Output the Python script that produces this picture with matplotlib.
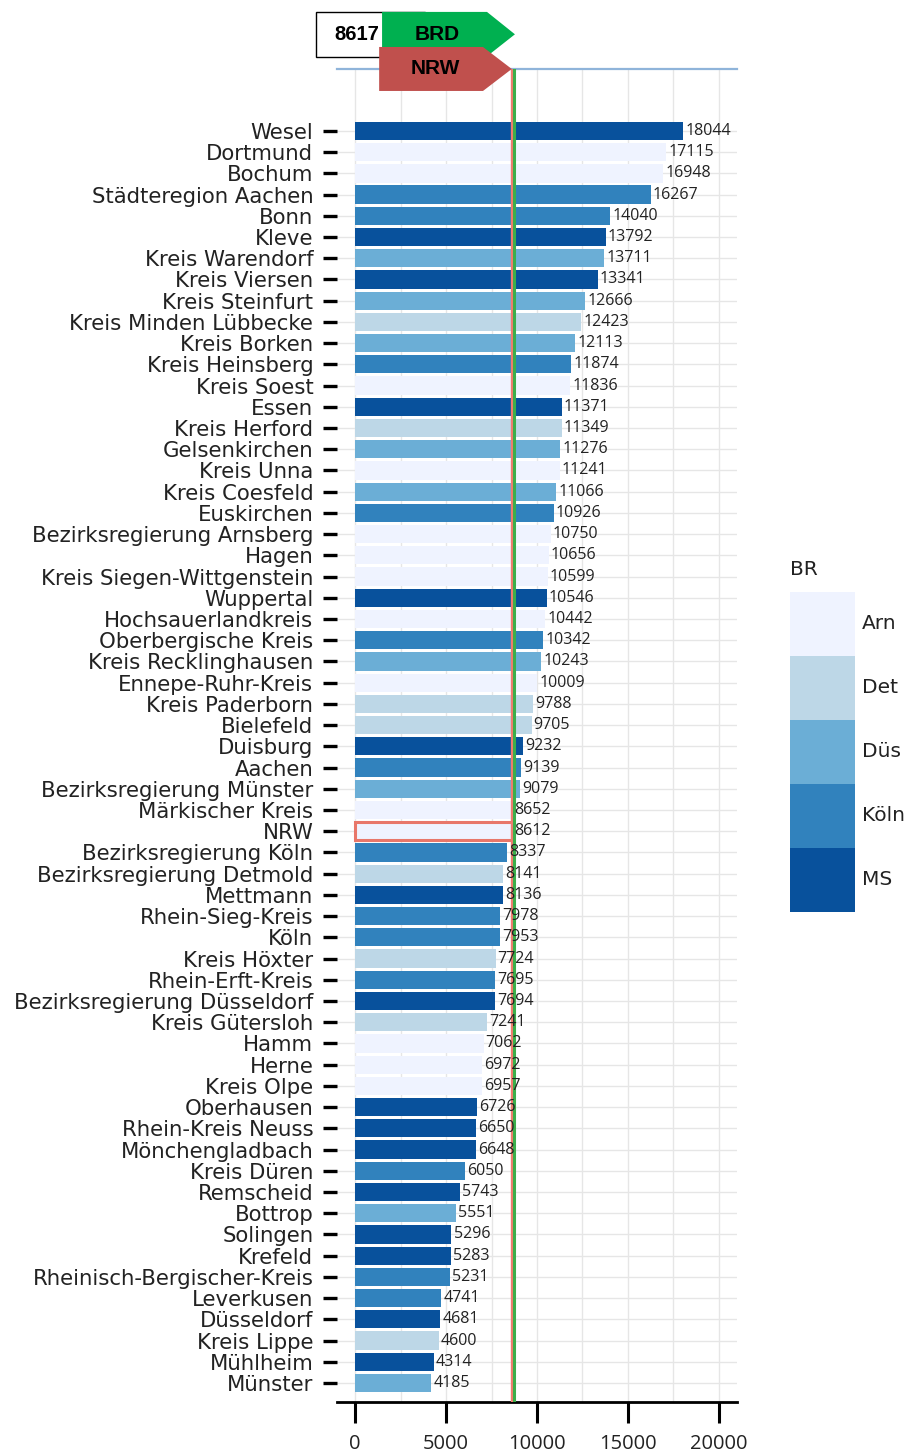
import numpy as np
import matplotlib
matplotlib.use("Agg")
import matplotlib.pyplot as plt
import matplotlib.transforms as mtransforms
from matplotlib.patches import Polygon, Rectangle

# Kreise / Städte, von oben nach unten
names = ["Wesel", "Dortmund", "Bochum", "Städteregion Aachen", "Bonn", "Kleve",
         "Kreis Warendorf", "Kreis Viersen", "Kreis Steinfurt", "Kreis Minden Lübbecke",
         "Kreis Borken", "Kreis Heinsberg", "Kreis Soest", "Essen", "Kreis Herford",
         "Gelsenkirchen", "Kreis Unna", "Kreis Coesfeld", "Euskirchen",
         "Bezirksregierung Arnsberg", "Hagen", "Kreis Siegen-Wittgenstein", "Wuppertal",
         "Hochsauerlandkreis", "Oberbergische Kreis", "Kreis Recklinghausen",
         "Ennepe-Ruhr-Kreis", "Kreis Paderborn", "Bielefeld", "Duisburg", "Aachen",
         "Bezirksregierung Münster", "Märkischer Kreis", "NRW", "Bezirksregierung Köln",
         "Bezirksregierung Detmold", "Mettmann", "Rhein-Sieg-Kreis", "Köln",
         "Kreis Höxter", "Rhein-Erft-Kreis", "Bezirksregierung Düsseldorf",
         "Kreis Gütersloh", "Hamm", "Herne", "Kreis Olpe", "Oberhausen",
         "Rhein-Kreis Neuss", "Mönchengladbach", "Kreis Düren", "Remscheid", "Bottrop",
         "Solingen", "Krefeld", "Rheinisch-Bergischer-Kreis", "Leverkusen", "Düsseldorf",
         "Kreis Lippe", "Mühlheim", "Münster"]
values = [18044, 17115, 16948, 16267, 14040, 13792, 13711, 13341, 12666, 12423,
          12113, 11874, 11836, 11371, 11349, 11276, 11241, 11066, 10926, 10750,
          10656, 10599, 10546, 10442, 10342, 10243, 10009, 9788, 9705, 9232,
          9139, 9079, 8652, 8612, 8337, 8141, 8136, 7978, 7953, 7724,
          7695, 7694, 7241, 7062, 6972, 6957, 6726, 6650, 6648, 6050,
          5743, 5551, 5296, 5283, 5231, 4741, 4681, 4600, 4314, 4185]
br = ["MS", "Arn", "Arn", "Köln", "Köln", "MS", "Düs", "MS", "Düs", "Det",
      "Düs", "Köln", "Arn", "MS", "Det", "Düs", "Arn", "Düs", "Köln", "Arn",
      "Arn", "Arn", "MS", "Arn", "Köln", "Düs", "Arn", "Det", "Det", "MS",
      "Köln", "Düs", "Arn", "Arn", "Köln", "Det", "MS", "Köln", "Köln", "Det",
      "Köln", "MS", "Det", "Arn", "Arn", "Arn", "MS", "MS", "MS", "Köln",
      "MS", "Düs", "MS", "MS", "Köln", "Köln", "MS", "Det", "MS", "Düs"]
br_levels = ["Arn", "Det", "Düs", "Köln", "MS"]
br_colors = {"Arn": "#eff3ff", "Det": "#bdd7e7", "Düs": "#6baed6",
             "Köln": "#3182bd", "MS": "#08519c"}
nrw_value = 8612
brd_value = 8617

fig = plt.figure(figsize=(9.09, 14.52), dpi=100)
ax = fig.add_axes([0.3707, 0.0344, 0.4401, 0.9181])

y = np.arange(len(names))
bars = ax.barh(y, values, height=0.86, color=[br_colors[b] for b in br], zorder=2)
i_nrw = names.index("NRW")
bars[i_nrw].set_edgecolor("#e8776a")
bars[i_nrw].set_linewidth(2.2)

for yi, v in zip(y, values):
    ax.annotate(str(v), (v, yi), xytext=(1.5, 0), textcoords="offset points",
                va="center", ha="left", fontsize=11.5, family="Open Sans",
                color="#222222", zorder=6)

# Referenzlinien NRW / BRD
ax.axvline(nrw_value, color="#ef7c6e", lw=2.4, zorder=4)
shift = mtransforms.ScaledTranslation(2.6 / 100, 0, fig.dpi_scale_trans)
ax.plot([brd_value, brd_value], [0, 1], color="#3cae4a", lw=2.2, zorder=4,
        transform=ax.get_xaxis_transform() + shift)

ax.set_xlim(-1000, 21000)
ax.set_ylim(59.9, -2.92)
ax.set_yticks(y)
ax.set_yticklabels(names, fontsize=15.3, family="DejaVu Sans", color="#222222")
ax.set_xticks([0, 5000, 10000, 15000, 20000])
ax.set_xticks(np.arange(0, 21000, 2500), minor=True)
ax.tick_params(axis="x", which="major", length=15, width=2.2, pad=8,
               labelsize=14.5, labelcolor="#222222")
ax.tick_params(axis="x", which="minor", length=0)
ax.tick_params(axis="y", length=10, width=2.4, pad=7)
for lab in ax.get_xticklabels():
    lab.set_family("Open Sans")

ax.grid(True, which="both", axis="x", color="#e6e6e6", lw=1, zorder=0)
ax.grid(True, axis="y", color="#e6e6e6", lw=1, zorder=0)
ax.set_axisbelow(True)
for s in ["left", "right"]:
    ax.spines[s].set_visible(False)
ax.spines["top"].set_color("#8fb4da")
ax.spines["top"].set_linewidth(1.6)
ax.spines["bottom"].set_color("black")
ax.spines["bottom"].set_linewidth(2)

# Pfeilmarken oben
trans = ax.get_xaxis_transform()
box = Rectangle((-2150, 1.0090), 6000, 0.0338, transform=trans, clip_on=False,
                facecolor="white", edgecolor="black", lw=1, zorder=7)
ax.add_patch(box)
green = Polygon([(1480, 1.0428), (7250, 1.0428), (brd_value + 170, 1.026),
                 (7250, 1.0095), (1480, 1.0095)], closed=True, transform=trans,
                clip_on=False, facecolor="#00b050", edgecolor="none", zorder=8)
ax.add_patch(green)
red = Polygon([(1320, 1.0165), (7030, 1.0165), (nrw_value, 1.0),
               (7030, 0.9835), (1320, 0.9835)], closed=True, transform=trans,
              clip_on=False, facecolor="#c0504d", edgecolor="none", zorder=9)
ax.add_patch(red)
ax.text(80, 1.026, "8617", transform=trans, ha="center", va="center",
        fontsize=14.5, fontweight="bold", family="Liberation Sans", zorder=10)
ax.text(4500, 1.026, "BRD", transform=trans, ha="center", va="center",
        fontsize=15, fontweight="bold", family="Liberation Sans", zorder=10)
ax.text(4400, 1.0, "NRW", transform=trans, ha="center", va="center",
        fontsize=15, fontweight="bold", family="Liberation Sans", zorder=10)

# Legende
lax = fig.add_axes([0.869, 0.372, 0.0715, 0.2204])
n = len(br_levels)
for k, lvl in enumerate(br_levels):
    lax.bar(0, 1, bottom=n - 1 - k, width=1, color=br_colors[lvl], align="edge")
    lax.text(1.11, n - 1 - k + 0.5, lvl, fontsize=14.5, va="center", ha="left",
             color="#222222")
lax.text(0, n + 0.35, "BR", fontsize=14.5, va="center", ha="left", color="#222222")
lax.set_xlim(0, 1)
lax.set_ylim(0, n)
lax.axis("off")

fig.savefig("out.png", dpi=100)
